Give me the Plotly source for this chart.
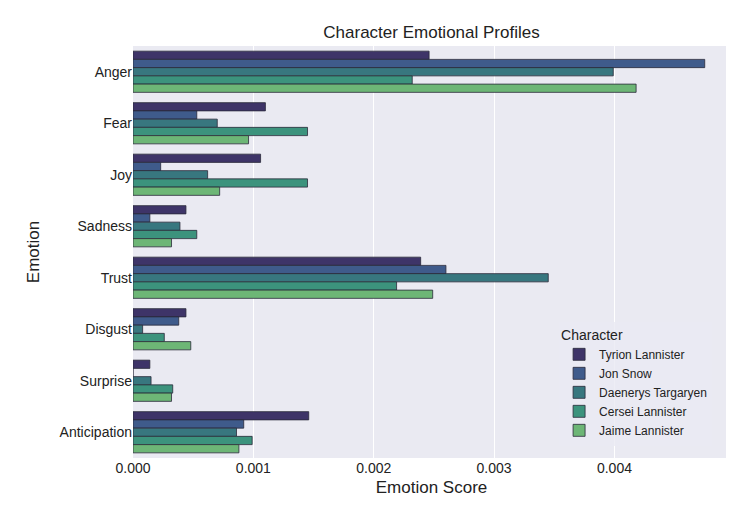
import plotly.graph_objects as go

emotions = ["Anger", "Fear", "Joy", "Sadness", "Trust", "Disgust", "Surprise", "Anticipation"]
characters = ["Tyrion Lannister", "Jon Snow", "Daenerys Targaryen", "Cersei Lannister", "Jaime Lannister"]
tyrion = [0.00246, 0.00110, 0.00106, 0.00044, 0.00239, 0.00044, 0.00014, 0.00146]
jon = [0.00475, 0.00053, 0.00023, 0.00014, 0.00260, 0.00038, 0.0, 0.00092]
daenerys = [0.00399, 0.00070, 0.00062, 0.00039, 0.00345, 0.00008, 0.00015, 0.00086]
cersei = [0.00232, 0.00145, 0.00145, 0.00053, 0.00219, 0.00026, 0.00033, 0.00099]
jaime = [0.00418, 0.00096, 0.00072, 0.00032, 0.00249, 0.00048, 0.00032, 0.00088]
colors = ["#3e3468", "#3f5b8b", "#38777f", "#3c937d", "#6db676"]

fig = go.Figure()
for name, vals, c in zip(characters, [tyrion, jon, daenerys, cersei, jaime], colors):
    fig.add_trace(go.Bar(y=emotions, x=vals, name=name, orientation="h",
                         marker=dict(color=c, line=dict(color="#2a2a3a", width=0.8))))

fig.update_layout(
    width=734, height=518, barmode="group", bargap=0.2, bargroupgap=0,
    title=dict(text="Character Emotional Profiles", x=0.5, xanchor="center", xref="paper", y=0.965,
               font=dict(size=17, color="#222")),
    paper_bgcolor="white", plot_bgcolor="#eaeaf2",
    font=dict(family="Liberation Sans, Arial", size=14, color="#222"),
    margin=dict(l=125, r=12, t=38, b=68),
    xaxis=dict(title=dict(text="Emotion Score", standoff=6), range=[0, 0.00496], dtick=0.001,
               tickformat=".3f", gridcolor="white", gridwidth=1.2, zeroline=False,
               ticks="", showline=False),
    yaxis=dict(title=dict(text="Emotion"), autorange="reversed", showgrid=False, ticks=""),
    legend=dict(title=dict(text="Character", side="top"), x=0.97, y=0.03, xanchor="right", yanchor="bottom",
                bgcolor="rgba(234,234,242,0.8)", font=dict(size=12), traceorder="normal"),
)
fig.write_html("out.html")
